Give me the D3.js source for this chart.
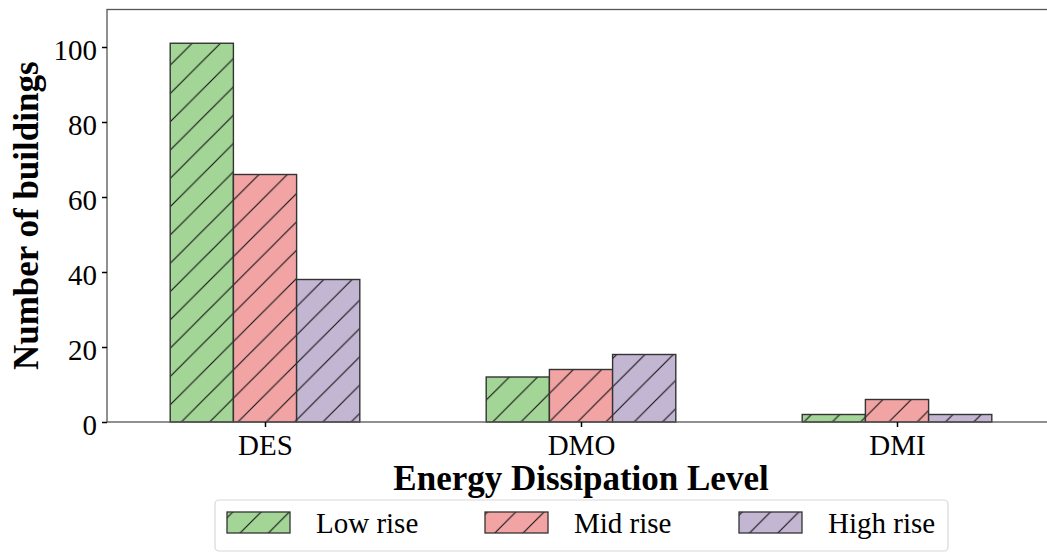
<!DOCTYPE html>
<html>
<head>
<meta charset="utf-8">
<script src="https://cdn.jsdelivr.net/npm/d3@7"></script>
<style>
  html, body { margin: 0; padding: 0; background: #fff; }
  svg { display: block; }
</style>
</head>
<body>
<div id="chart"></div>
<script>
const categories = ["DES", "DMO", "DMI"];
const seriesNames = ["Low rise", "Mid rise", "High rise"];
const lowRise = [101, 12, 2];
const midRise = [66, 14, 6];
const highRise = [38, 18, 2];
const yTicks = [0, 20, 40, 60, 80, 100];
const colors = ["#a3d597", "#f2a4a4", "#c3b6d3"];
const seriesValues = [lowRise, midRise, highRise];

(function () {
const W = 1047, H = 552;
const mLeft = 107, mRight = 1055, mTop = 9.5, mBottom = 422;
const serif = "'Liberation Serif', 'Times New Roman', serif";

const svg = d3.select("#chart").append("svg")
  .attr("width", W).attr("height", H);

// hatch patterns
const defs = svg.append("defs");
const hs = 28.3;
colors.forEach((c, i) => {
  const p = defs.append("pattern")
    .attr("id", "hatch" + i)
    .attr("patternUnits", "userSpaceOnUse")
    .attr("width", hs).attr("height", hs)
    .attr("patternTransform", "translate(9,0)");
  p.append("rect").attr("width", hs).attr("height", hs).attr("fill", c);
  p.append("path")
    .attr("d", `M0,${hs} L${hs},0 M${-hs/2},${hs/2} L${hs/2},${-hs/2} M${hs/2},${hs*1.5} L${hs*1.5},${hs/2}`)
    .attr("stroke", "#111").attr("stroke-width", 1.1).attr("fill", "none");
});

const x = d3.scaleLinear().domain([-0.5, 2.5]).range([mLeft, mRight]);
const y = d3.scaleLinear().domain([0, 110]).range([mBottom, mTop]);
const barW = 0.2;

// bars
seriesValues.forEach((vals, si) => {
  svg.append("g").selectAll("rect").data(vals).join("rect")
    .attr("x", (d, i) => x(i + (si - 1) * barW - barW / 2))
    .attr("width", x(barW) - x(0))
    .attr("y", d => y(d))
    .attr("height", d => y(0) - y(d))
    .attr("fill", `url(#hatch${si})`)
    .attr("stroke", "#333")
    .attr("stroke-width", 1.4);
});

// frame
svg.append("rect")
  .attr("x", mLeft).attr("y", mTop)
  .attr("width", mRight - mLeft).attr("height", mBottom - mTop)
  .attr("fill", "none").attr("stroke", "#555").attr("stroke-width", 1.3);

// y axis
const yAxis = d3.axisLeft(y).tickValues(yTicks).tickSize(5).tickPadding(5).tickFormat(d3.format("d"));
const gy = svg.append("g").attr("transform", `translate(${mLeft},0)`).call(yAxis);
gy.select(".domain").remove();
gy.selectAll(".tick line").attr("stroke", "#000").attr("stroke-width", 1.5);
gy.selectAll(".tick text").attr("font-family", serif).attr("font-size", 29).attr("fill", "#000").attr("dy", "0.42em");

// x axis
const xAxis = d3.axisBottom(x).tickValues([0, 1, 2]).tickSize(5).tickPadding(5).tickFormat(i => categories[i]);
const gx = svg.append("g").attr("transform", `translate(0,${mBottom})`).call(xAxis);
gx.select(".domain").remove();
gx.selectAll(".tick line").attr("stroke", "#000").attr("stroke-width", 1.5);
gx.selectAll(".tick text").attr("font-family", serif).attr("font-size", 29).attr("fill", "#000").attr("dy", "0.78em");

// axis labels
svg.append("text")
  .attr("x", (mLeft + mRight) / 2).attr("y", 490)
  .attr("text-anchor", "middle")
  .attr("font-family", serif).attr("font-weight", "bold").attr("font-size", 35)
  .text("Energy Dissipation Level");

svg.append("text")
  .attr("transform", `translate(38,${(mTop + mBottom) / 2}) rotate(-90)`)
  .attr("text-anchor", "middle")
  .attr("font-family", serif).attr("font-weight", "bold").attr("font-size", 35)
  .text("Number of buildings");

// legend
const lg = svg.append("g");
lg.append("rect")
  .attr("x", 215).attr("y", 500).attr("width", 733).attr("height", 51)
  .attr("rx", 4).attr("fill", "#fff").attr("stroke", "#d8d8d8").attr("stroke-width", 1.2);
const patchX = [227, 485, 739];
seriesNames.forEach((name, i) => {
  lg.append("rect")
    .attr("x", patchX[i]).attr("y", 512).attr("width", 63).attr("height", 21)
    .attr("fill", `url(#hatch${i})`).attr("stroke", "#333").attr("stroke-width", 1.3);
  lg.append("text")
    .attr("x", patchX[i] + 89).attr("y", 533)
    .attr("font-family", serif).attr("font-size", 29).attr("fill", "#000")
    .text(name);
});
})();
</script>
</body>
</html>
